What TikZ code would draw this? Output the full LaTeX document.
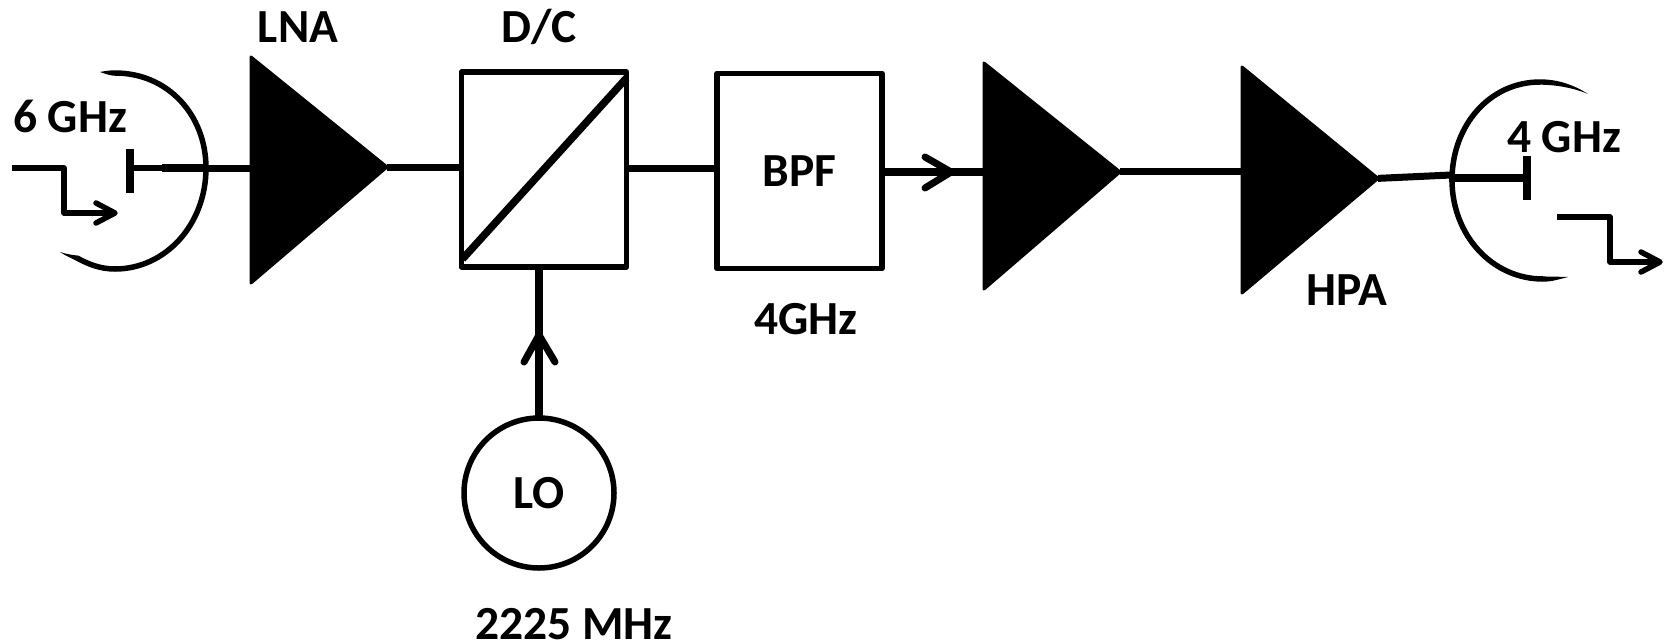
\documentclass[tikz,border=0pt]{standalone}
\usepackage{fontspec}
\setmainfont{Carlito}
\usetikzlibrary{shapes.geometric,arrows.meta,calc}
\tikzset{
  x=1pt,y=-1pt,
  lbl/.style={font=\fontsize{47.5}{50}\selectfont\bfseries,inner sep=0,text=black},
  blockbox/.style={draw=black,line width=5.5pt,line join=round,fill=white,minimum width=165pt,minimum height=195pt,inner sep=0,outer sep=0,font=\fontsize{47.5}{50}\selectfont\bfseries},
  amp/.style={isosceles triangle,isosceles triangle stretches,shape border rotate=0,fill=black,draw=black,line width=3pt,line join=round,inner sep=0,outer sep=0,minimum height=136pt,minimum width=226pt,anchor=lower side,transform shape},
  wire/.style={line width=7pt,draw=black},
  thin wire/.style={line width=5.5pt,draw=black,line cap=round,line join=round},
  head/.style={line width=7pt,draw=black,line cap=round,line join=round},
  dish/.style={line width=5.5pt,draw=black},
  tip/.style={fill=black,draw=none}
}
\begin{document}
\begin{tikzpicture}
\useasboundingbox (0,0) rectangle (1667,643);
% blocks
\node[amp,yslant=0.022] (lna) at (251,170) {};
\node[blockbox] (dc) at (544,169.5) {};
\node[blockbox] (bpf) at (799.5,171) {BPF};
\node[amp,yslant=0.03] (amp2) at (984,176) {};
\node[amp,yslant=0.012] (hpa) at (1242,180) {};
\node[circle,draw=black,line width=5.5pt,minimum size=150pt,inner sep=0,outer sep=0,font=\fontsize{47.5}{50}\selectfont\bfseries] (lo) at (539,493) {LO};
% mixer diagonal
\draw[line width=7.5pt] ($(dc.south west)+(1,-8)$) -- ($(dc.north east)+(0,6)$);
% labels
\node[lbl] (tLNA) at (298,27) {LNA};
\node[lbl] (tDC) at (539,27) {D/C};
\node[lbl] (t6) at (70,116) {6 GHz};
\node[lbl] (t4) at (1564,137) {4 GHz};
\node[lbl] (t4b) at (806,319) {4GHz};
\node[lbl] (t2225) at (574,624) {2225 MHz};
\node[lbl] (tHPA) at (1347,290) {HPA};
% feeds
\coordinate (feedL) at (130,168);
\coordinate (feedR) at (1527,178);
\coordinate (kneeR) at (1451,175);
\draw[line width=8.5pt] (130,149) -- (130,193);
\draw[line width=8.5pt] (1527,156) -- (1527,200);
\draw[line width=5.5pt] (feedL) -- (162,168);
\draw[line width=8.5pt] (162,168) -- (206,168);
\draw[wire] (206,168) -- (lna.lower side |- 0,168);
\draw[wire] (lna.apex) -- (dc.west |- lna.apex);
\draw[wire] (dc.east |- 0,168) -- (bpf.west |- 0,168);
\draw[line width=8pt] (bpf.east |- 0,172) -- (amp2.lower side |- 0,172);
\draw[wire] (amp2.apex) -- (hpa.lower side |- amp2.apex);
\draw[wire] (hpa.apex) -- (kneeR);
\draw[line width=7.5pt] (1449,178) -- (feedR);
\draw[line width=7.5pt] (lo.north) -- (dc.south -| lo.north);
% arrowheads
\draw[head] (925,157) -- (951,172) -- (925,188);
\draw[head] (524,362) -- (539,335) -- (555,362);
% dish left
\draw[dish] (115,73) .. controls (168,73) and (206,115) .. (206,168)
  .. controls (206,225) and (165,269) .. (115,269)
  .. controls (100,269) and (88,264) .. (77,258);
\fill[tip] (100,72) .. controls (105,71) and (110,70.3) .. (115,70.3) -- (115,75.7) .. controls (112,75.7) and (108,75) .. (100,72) -- cycle;
\fill[tip] (60,252) .. controls (66,254) and (72,255) .. (78.2,255.6) -- (75.8,260.4) .. controls (71,258) and (66,256) .. (60,252) -- cycle;
% dish right
\draw[dish] (1540,82) .. controls (1490,82) and (1452,125) .. (1452,180)
  .. controls (1452,235) and (1492,279) .. (1543,279);
\fill[tip] (1540,79.3) .. controls (1558,79.3) and (1574,85) .. (1588,94) .. controls (1574,88) and (1556,84.7) .. (1540,84.7) -- cycle;
\fill[tip] (1543,276.3) .. controls (1552,277) and (1560,276.5) .. (1568,277) .. controls (1560,279) and (1552,281.7) .. (1543,281.7) -- cycle;
% signal arrows
\draw[thin wire,line cap=butt] (12,168) -- (64,168) -- (64,213) -- (113,213);
\draw[head,line width=5.5pt] (96,203) -- (115,213) -- (96,223);
\draw[thin wire,line cap=butt] (1557,217) -- (1610,217) -- (1610,262) -- (1658,262);
\draw[head,line width=5.5pt] (1641,252) -- (1660,262) -- (1641,272);
\end{tikzpicture}
\end{document}
